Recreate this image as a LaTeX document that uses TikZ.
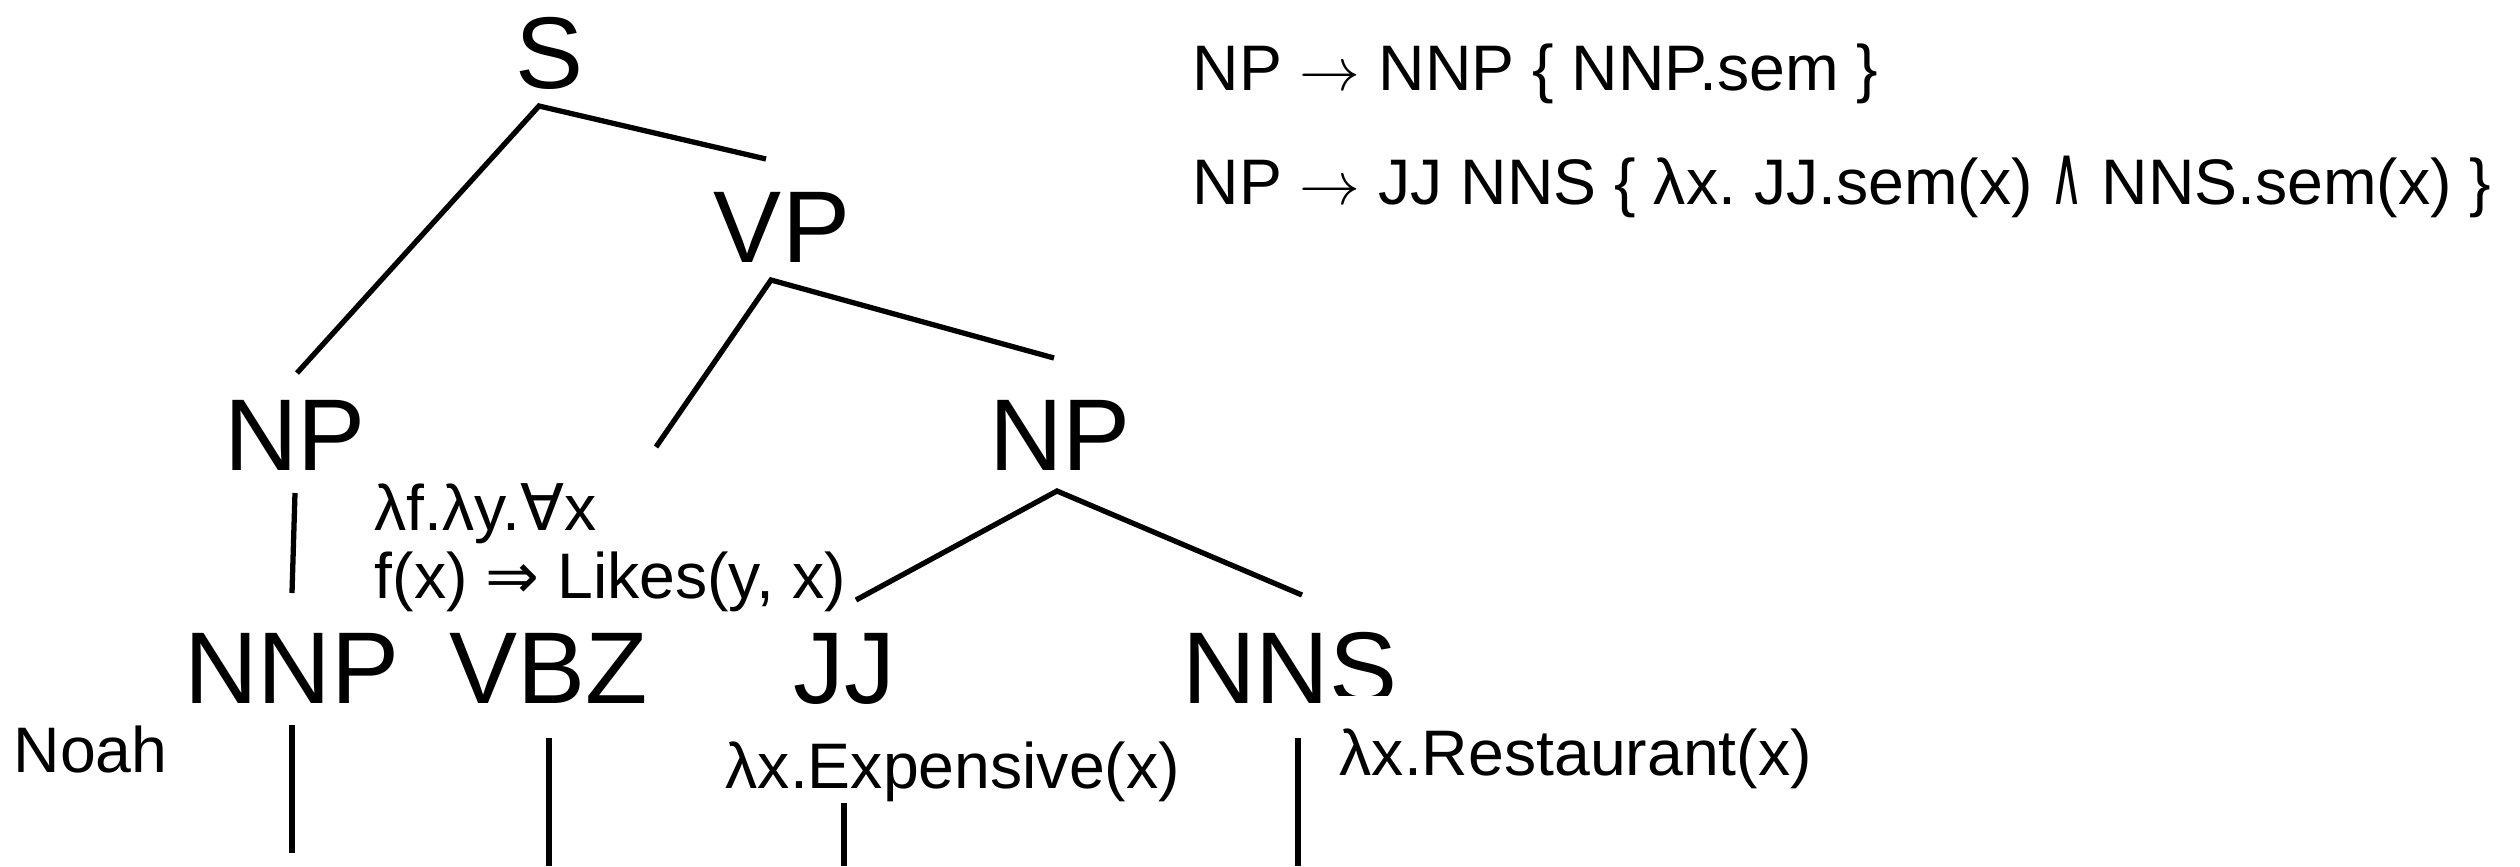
\documentclass[tikz,border=0pt]{standalone}
\usepackage{fontspec}
\setmainfont{Liberation Sans}
\newfontfamily\symfont{DejaVu Sans}
\newcommand{\mysym}[1]{{\symfont #1}}
\newcommand{\myarrow}{$\rightarrow$}
\newcommand{\mywedge}{\scalebox{0.7}[1.3]{\symfont ∧}}
\frenchspacing
\begin{document}
\begin{tikzpicture}[x=0.01cm,y=-0.01cm,
  big/.style={font=\fontsize{29}{34}\selectfont, inner sep=0, anchor=base},
  small/.style={font=\fontsize{18.3}{22}\selectfont, inner sep=0, anchor=base west},
  edge/.style={line width=1.5pt}]
\useasboundingbox (0,0) rectangle (2520,866);

% tree labels
\node[big] (S) at (550,88) {S};
\node[big] (VP) at (782,262) {VP};
\node[big] (NPl) at (295,470) {NP};
\node[big] (NPr) at (1060,470) {NP};
\node[big] (NNP) at (292,703) {NNP};
\node[big] (VBZ) at (549,703) {VBZ};
\node[big] (JJ) at (844,703) {JJ};
\begin{scope}
  \clip (1150,600) -- (1430,600) -- (1430,695) -- (1334,695) -- (1334,720) -- (1150,720) -- cycle;
  \node[big] (NNS) at (1290,703) {NNS};
\end{scope}

% semantic labels
\node[small] (vbzsemA) at (374,530) {λf.λy.\mysym{∀}x};
\node[small] (vbzsemB) at (374,598) {f(x) \mysym{⇒} Likes(y, x)};
\node[small] (noah) at (13,772) {Noah};
\node[small] (expensive) at (725,788) {λx.Expensive(x)};
\node[small] (restaurant) at (1339,775) {λx.Restaurant(x)};

% rules
\node[small] (rule1) at (1192,90) {NP \myarrow\ NNP \{ NNP.sem \}};
\node[small] (rule2) at (1192,204) {NP \myarrow\ JJ NNS \{ λx. JJ.sem(x) \mywedge\ NNS.sem(x) \}};

% connector end points
\coordinate (S-bot) at (539,106);
\coordinate (VP-top) at (766,159);
\coordinate (NPl-top) at (297,373);
\coordinate (VP-bot) at (771,280);
\coordinate (VBZ-top) at (656,447);
\coordinate (NPr-top) at (1054,358);
\coordinate (NPl-bot) at (295,493);
\coordinate (NNP-top) at (292,593);
\coordinate (NPr-bot) at (1057,491);
\coordinate (JJ-top) at (856,600);
\coordinate (NNS-top) at (1302,595);
\coordinate (NNP-bot) at (292,725);
\coordinate (NNP-end) at (292,853);
\coordinate (VBZ-bot) at (549,738);
\coordinate (VBZ-end) at (549,866);
\coordinate (JJ-bot) at (844,803);
\coordinate (JJ-end) at (844,866);
\coordinate (NNS-bot) at (1298,738);
\coordinate (NNS-end) at (1298,866);

% connectors
\draw[edge] (NPl-top) -- (S-bot) -- (VP-top);
\draw[edge] (VBZ-top) -- (VP-bot) -- (NPr-top);
\draw[edge] (NPl-bot) -- (NNP-top);
\draw[edge] (JJ-top) -- (NPr-bot) -- (NNS-top);
\draw[edge] (NNP-bot) -- (NNP-end);
\draw[edge] (VBZ-bot) -- (VBZ-end);
\draw[edge] (JJ-bot) -- (JJ-end);
\draw[edge] (NNS-bot) -- (NNS-end);
\end{tikzpicture}
\end{document}
